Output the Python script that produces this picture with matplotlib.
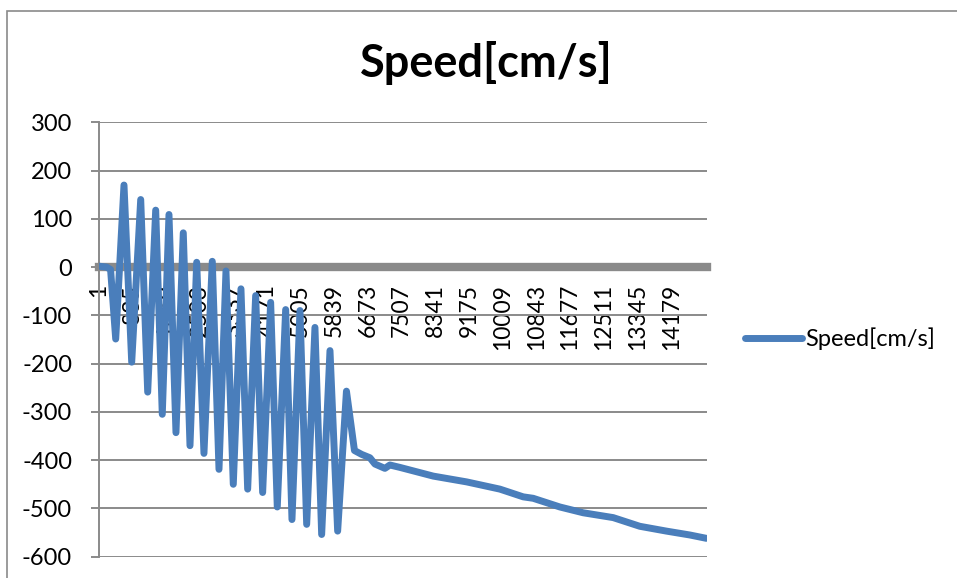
import matplotlib
matplotlib.use("Agg")
from matplotlib import pyplot as plt
from matplotlib.patches import Rectangle

# values (sample index, speed in cm/s)
sample_idx = [1, 200, 300, 427, 632, 823, 1046, 1219, 1417, 1580, 1746, 1919, 2100,
              2266, 2432, 2612, 2818, 2984, 3157, 3338, 3528, 3694, 3892, 4065, 4263,
              4427, 4635, 4791, 4989, 5155, 5360, 5526, 5732, 5922, 6140, 6338, 6516,
              6721, 6845, 7092, 7216, 7464, 8288, 9115, 9610, 9939, 10516, 10763,
              11424, 12001, 12743, 13403, 14064, 14641, 15054]
speed = [2, 0, -5, -149, 170, -197, 140, -259, 118, -305, 109, -343, 71,
         -370, 10, -386, 12, -419, -8, -450, -45, -460, -59, -467, -73,
         -497, -88, -523, -90, -533, -125, -554, -173, -547, -257, -380, -388,
         -395, -408, -417, -410, -415, -433, -445, -454, -460, -476, -479,
         -497, -509, -519, -537, -547, -555, -562]

tick_pos = [1, 835, 1669, 2503, 3337, 4171, 5005, 5839, 6673, 7507, 8341, 9175,
            10009, 10843, 11677, 12511, 13345, 14179]
y_ticks = [-600, -500, -400, -300, -200, -100, 0, 100, 200, 300]

plt.rcParams['font.family'] = ['Lato', 'DejaVu Sans']
grey = '#8a8a8a'
blue = '#4a7ebb'

fig = plt.figure(figsize=(9.57, 5.78), dpi=100)
ax = fig.add_axes([98.5 / 957, 1 - 556.7 / 578, (706.5 - 98.5) / 957, (556.7 - 122.3) / 578])

ax.plot(sample_idx, speed, color=blue, lw=5, solid_joinstyle='round',
        solid_capstyle='round', zorder=3, label='Speed[cm/s]')

# category axis sits on y = 0 (do this before setting the tick labels)
for s in ['top', 'right']:
    ax.spines[s].set_visible(False)
ax.spines['left'].set_color(grey)
ax.spines['left'].set_linewidth(1.4)
ax.spines['bottom'].set_position(('data', 0))
ax.spines['bottom'].set_color(grey)
ax.spines['bottom'].set_linewidth(6)
ax.spines['bottom'].set_zorder(2.5)

ax.set_xlim(1, sample_idx[-1])
ax.set_ylim(-600, 300)
ax.set_yticks(y_ticks)
ax.set_yticklabels([str(v) for v in y_ticks])
ax.set_xticks(tick_pos)
ax.set_xticklabels([str(v) for v in tick_pos])

ax.grid(axis='y', color=grey, lw=1.4)
ax.set_axisbelow(True)

ax.tick_params(axis='y', length=6, width=1.4, color=grey, pad=13, labelsize=17)
ax.tick_params(axis='x', length=0, pad=12, labelsize=16.5, labelrotation=90)
for lbl in ax.get_xticklabels():
    lbl.set_va('top')
    lbl.set_ha('center')

fig.text(486 / 957, 1 - 63 / 578, 'Speed[cm/s]', ha='center', va='center',
         fontsize=32.5, fontweight='bold')

fig.legend(loc='center left', bbox_to_anchor=(745 / 957, 1 - 339 / 578),
           frameon=False, fontsize=17, handlelength=2.4, handletextpad=0.15,
           borderpad=0, borderaxespad=0)

fig.patches.append(Rectangle((7 / 957, -0.1), 1.2, 1.1 - 11 / 578, transform=fig.transFigure,
                             fill=False, edgecolor=grey, lw=1.2))

plt.savefig('out.png', dpi=100)
